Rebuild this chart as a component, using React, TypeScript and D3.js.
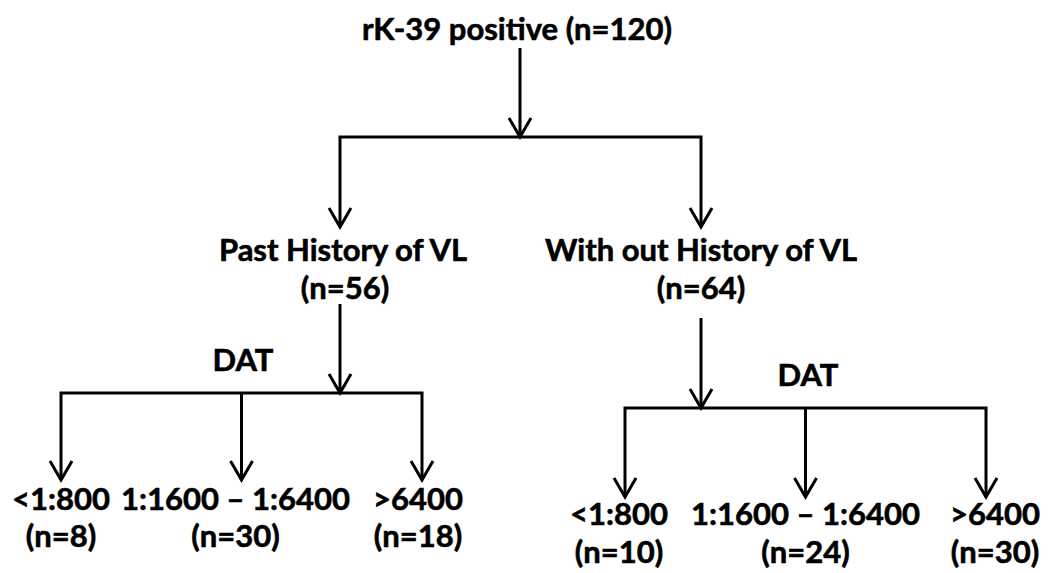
import React, { useEffect, useRef } from "react";
import * as d3 from "d3";

// tree values
const rootLabel = "rK-39 positive";
const rootN = 120;
const groupLabels = ["Past History of VL", "With out History of VL"];
const groupN = [56, 64];
const splitLabel = "DAT";
const titreLabels = ["<1:800", "1:1600 \u2013 1:6400", ">6400"];
const titreN = [
  [8, 30, 18],
  [10, 24, 30],
];

const W = 1057;
const H = 573;
const FONT = "Lato, 'Open Sans', sans-serif";
const FS = 31;

function App() {
  const ref = useRef<SVGSVGElement | null>(null);

  useEffect(() => {
    const svg = d3.select(ref.current);
    svg.selectAll("*").remove();

    const g = svg.append("g");

    // x positions of the group arrows and of each group's titre arrows
    const xGroup = d3.scalePoint<string>().domain(groupLabels).range([340, 701]);
    const xTitre = [
      d3.scalePoint<string>().domain(titreLabels).range([61, 422]),
      d3.scalePoint<string>().domain(titreLabels).range([625, 986]),
    ];

    // vertical layout per group (right group sits lower)
    const lay = [
      { datTop: 304, bar: 393, tip: 480, datY: 371, datX: 243, l1: 510, l2: 547, dx: [0, -6, -4] },
      { datTop: 318, bar: 408, tip: 497, datY: 386, datX: 808, l1: 525, l2: 563, dx: [-6, 0, 9] },
    ];

    const line = d3.line<[number, number]>();

    const stroke = (sel: any) =>
      sel.attr("fill", "none").attr("stroke", "#000").attr("stroke-width", 3).attr("stroke-linejoin", "miter");

    const head = (x: number, y: number) => {
      g.append("path")
        .attr("d", line([[x - 11, y - 19], [x, y], [x + 11, y - 19]]))
        .call(stroke);
    };

    const text = (t: string, x: number, y: number) => {
      g.append("text")
        .attr("x", x)
        .attr("y", y)
        .attr("text-anchor", "middle")
        .style("font-family", FONT)
        .style("font-weight", "bold")
        .style("font-size", FS + "px")
        .attr("fill", "#000")
        .attr("stroke", "#000")
        .attr("stroke-width", 0.6)
        .text(t);
    };

    // root
    text(`${rootLabel} (n=${rootN})`, 517, 40);
    const rootX = 520;
    const rootBar = 137;
    g.append("path").attr("d", line([[rootX, 48], [rootX, rootBar]])).call(stroke);
    head(rootX, rootBar);

    const gl = xGroup(groupLabels[0])!;
    const gr = xGroup(groupLabels[1])!;
    g.append("path")
      .attr("d", line([[gl, 227], [gl, rootBar], [gr, rootBar], [gr, 227]]))
      .call(stroke);

    groupLabels.forEach((lab, i) => {
      const x = xGroup(lab)!;
      head(x, 227);
      text(lab, x + (i === 0 ? 3 : 0), 261);
      text(`(n=${groupN[i]})`, x + (i === 0 ? 5 : 0), 299);

      const L = lay[i];
      g.append("path").attr("d", line([[x, L.datTop], [x, L.bar]])).call(stroke);
      head(x, L.bar);
      text(splitLabel, L.datX, L.datY);

      const sx = xTitre[i];
      const x0 = sx(titreLabels[0])!;
      const x2 = sx(titreLabels[titreLabels.length - 1])!;
      g.append("path")
        .attr("d", line([[x0, L.tip], [x0, L.bar], [x2, L.bar], [x2, L.tip]]))
        .call(stroke);

      titreLabels.forEach((t, j) => {
        const cx = sx(t)!;
        if (j > 0 && j < titreLabels.length - 1) {
          g.append("path").attr("d", line([[cx, L.bar], [cx, L.tip]])).call(stroke);
        }
        head(cx, L.tip);
        text(t, cx + L.dx[j], L.l1);
        text(`(n=${titreN[i][j]})`, cx + L.dx[j], L.l2);
      });
    });
  }, []);

  return (
    <svg
      ref={ref}
      width={W}
      height={H}
      style={{ position: "absolute", left: 0, top: 0, background: "#fff" }}
    />
  );
}

export default App;
